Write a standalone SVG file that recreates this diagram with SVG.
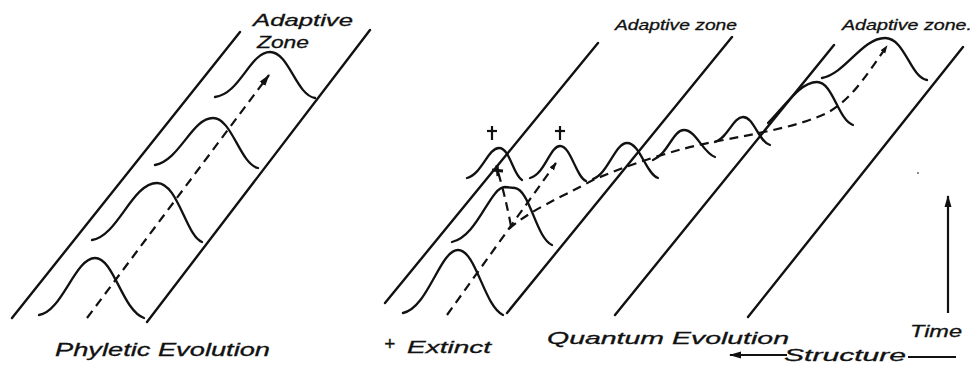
<svg xmlns="http://www.w3.org/2000/svg" width="971" height="366" viewBox="0 0 971 366">
<defs>
<style>
.zone{stroke:#111;stroke-width:2.4;fill:none;stroke-linecap:round}
.curve{stroke:#111;stroke-width:2.3;fill:none;stroke-linecap:round}
.dash{stroke:#111;stroke-width:2.2;fill:none;stroke-dasharray:9 6}
.solid{stroke:#111;stroke-width:2.2;fill:none}
.lbl{font-family:"Liberation Sans","DejaVu Sans",sans-serif;font-style:italic;fill:#111;stroke:#111;stroke-width:0.3}
</style>
<marker id="ah" viewBox="0 0 10 10" refX="9" refY="5" markerWidth="8" markerHeight="8" orient="auto" markerUnits="userSpaceOnUse">
<path d="M0 1.5 L10 5 L0 8.5 Z" fill="#111"/>
</marker>
<marker id="ah2" viewBox="0 0 12 10" refX="11" refY="5" markerWidth="12" markerHeight="10" orient="auto" markerUnits="userSpaceOnUse">
<path d="M0 1.5 L12 5 L0 8.5 Z" fill="#111"/>
</marker>
</defs>
<rect width="971" height="366" fill="#fff"/>

<g id="phyletic">
<line class="zone" x1="12" y1="318" x2="240" y2="32"/>
<line class="zone" x1="147" y1="322" x2="370" y2="30"/>
<path class="curve" d="M39 315 C62 312 75 258 95 258 C114 258 122 310 144 318"/>
<path class="curve" d="M92 240 C118 236 132 183 157 183 C178 183 186 236 202 242"/>
<path class="curve" d="M155 165 C180 160 192 118 213 118 C232 118 240 164 258 168"/>
<path class="curve" d="M215 97 C240 94 250 52 270 52 C289 52 296 95 315 98"/>
<line class="dash" x1="87" y1="318" x2="269" y2="75" marker-end="url(#ah2)"/>
<text class="lbl" x="253" y="26" font-size="17" textLength="100" lengthAdjust="spacingAndGlyphs">Adaptive</text>
<text class="lbl" x="257" y="48" font-size="17" textLength="52" lengthAdjust="spacingAndGlyphs">Zone</text>
<text class="lbl" x="55" y="356" font-size="18" textLength="215" lengthAdjust="spacingAndGlyphs">Phyletic Evolution</text>
</g>

<g id="quantum">
<line class="zone" x1="385" y1="303" x2="598" y2="43"/>
<line class="zone" x1="507" y1="313" x2="732" y2="37"/>
<line class="zone" x1="615" y1="315" x2="834" y2="45"/>
<line class="zone" x1="748" y1="317" x2="963" y2="47"/>

<path class="curve" d="M403 313 C428 308 440 250 458 250 C476 250 484 306 503 315"/>
<path class="curve" d="M452 242 C478 236 490 187 505 187 L515 188 C530 190 536 238 552 245"/>
<path class="curve" d="M467 178 C482 174 488 148 499 148 C510 148 513 175 522 180"/>
<path class="curve" d="M530 178 C545 174 550 146 560 146 C571 146 576 177 586 181"/>
<path class="curve" d="M593 179 C608 174 615 143 627 143 C640 143 646 174 658 178"/>
<path class="curve" d="M653 160 C668 154 673 130 684 130 C696 130 703 153 715 157"/>
<path class="curve" d="M715 142 C728 138 733 117 743 117 C754 117 758 141 770 145"/>
<path class="curve" d="M768 123 C785 106 800 82 817 82 C833 82 838 120 853 125"/>
<path class="curve" d="M822 78 C845 74 862 38 885 38 C905 38 910 77 927 80"/>

<line class="solid" x1="492" y1="126" x2="492" y2="140"/>
<line class="solid" x1="487" y1="131" x2="497" y2="131"/>
<line class="solid" x1="560" y1="126" x2="560" y2="140"/>
<line class="solid" x1="555" y1="131" x2="565" y2="131"/>
<line x1="492" y1="170" x2="503" y2="171" stroke="#111" stroke-width="3"/>
<line x1="497" y1="165" x2="498" y2="176" stroke="#111" stroke-width="3"/>
</g>

<g id="connectors">
<path class="dash" d="M447 315 L556 163" marker-end="url(#ah)"/>
<path class="dash" d="M511 226 Q505 195 498 172"/>
<path class="dash" d="M509 229 C530 210 560 198 593 180 C630 164 680 148 713 142 C760 133 800 126 827 113 C850 100 862 82 887 46" marker-end="url(#ah)"/>
<line class="solid" x1="948" y1="313" x2="948" y2="196" marker-end="url(#ah2)"/>
<line class="solid" x1="787" y1="355" x2="730" y2="355" marker-end="url(#ah2)"/>
<line class="solid" x1="908" y1="357" x2="956" y2="357"/>
</g>

<g id="labels">
<text class="lbl" x="615" y="30" font-size="14" textLength="122" lengthAdjust="spacingAndGlyphs">Adaptive zone</text>
<text class="lbl" x="842" y="30" font-size="14" textLength="130" lengthAdjust="spacingAndGlyphs">Adaptive zone.</text>
<text class="lbl" x="384" y="350" font-size="19">+</text>
<text class="lbl" x="407" y="353" font-size="17" textLength="84" lengthAdjust="spacingAndGlyphs">Extinct</text>
<text class="lbl" x="547" y="344" font-size="17" textLength="242" lengthAdjust="spacingAndGlyphs">Quantum Evolution</text>
<text class="lbl" x="910" y="337" font-size="17" textLength="52" lengthAdjust="spacingAndGlyphs">Time</text>
<text class="lbl" x="784" y="361" font-size="17" textLength="122" lengthAdjust="spacingAndGlyphs">Structure</text>
<circle cx="918" cy="173" r="0.9" fill="#555"/>
</g>
</svg>
